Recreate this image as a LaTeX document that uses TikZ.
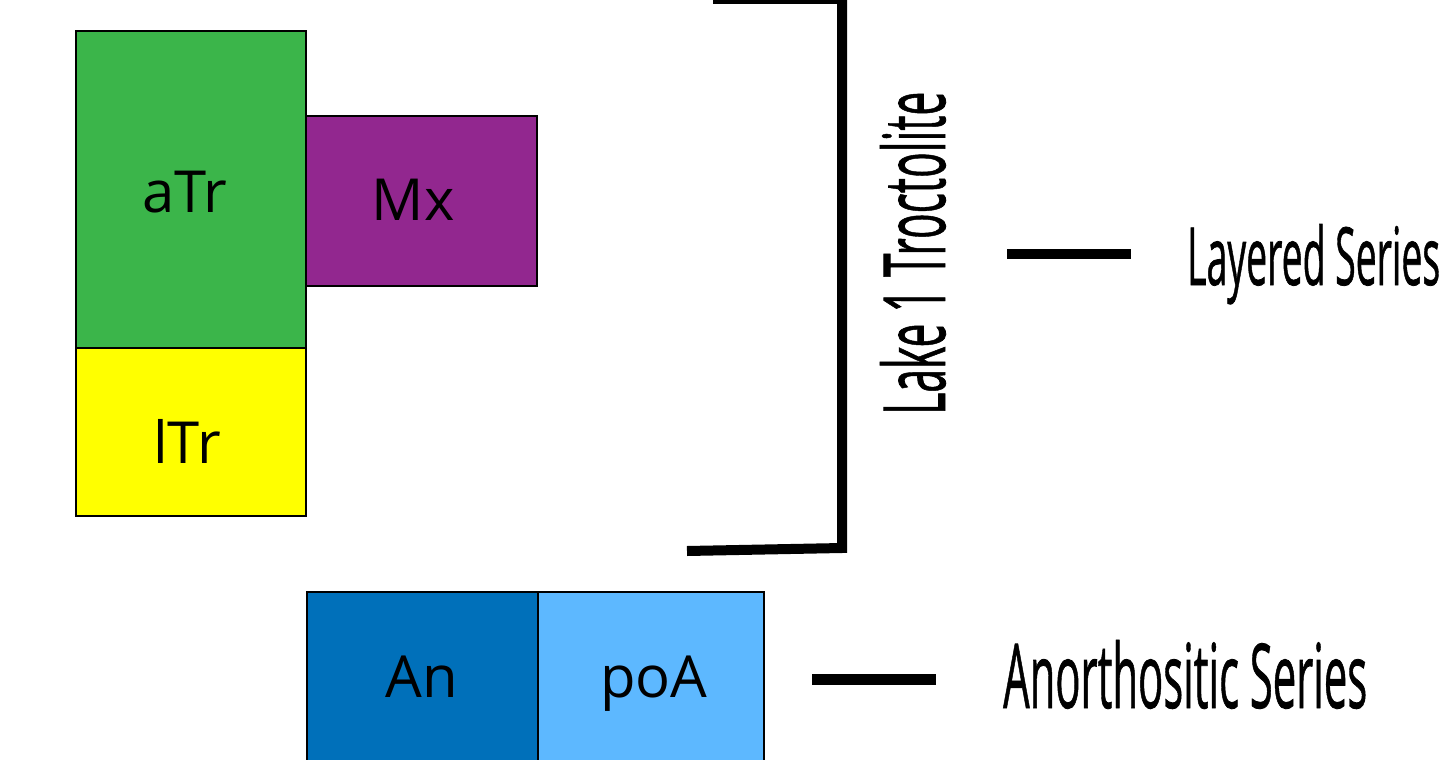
\documentclass[tikz,border=0pt]{standalone}
\usepackage{fontspec}
\setmainfont{Open Sans}
\newfontfamily\condfont[FakeBold=1]{Open Sans}
\usepackage{graphicx}
\definecolor{trgreen}{RGB}{59,181,74}
\definecolor{mxpurple}{RGB}{146,39,143}
\definecolor{ltyellow}{RGB}{255,255,0}
\definecolor{anblue}{RGB}{0,112,186}
\definecolor{poablue}{RGB}{93,184,255}
\tikzset{
  unitbox/.style={draw=black, line width=2.2pt, anchor=north west, inner sep=0pt, outer sep=0pt},
  boxlabel/.style={anchor=base, inner sep=0pt, font=\fontsize{58}{60}\selectfont},
  sidelabel/.style={anchor=base west, inner sep=0pt, font=\condfont},
  heavy/.style={line width=10pt},
}
\begin{document}
\begin{tikzpicture}[x=1pt,y=-1pt]
\useasboundingbox (0,0) rectangle (1443,760);
\begin{scope}
\clip (0,0) rectangle (1443,760);
% boxes
\node[unitbox, fill=trgreen, minimum width=230pt, minimum height=317pt] (atr) at (76,31) {};
\node[unitbox, fill=mxpurple, minimum width=231pt, minimum height=170pt] (mx) at (306,116) {};
\node[unitbox, fill=ltyellow, minimum width=230pt, minimum height=168pt] (ltr) at (76,348) {};
\node[unitbox, fill=anblue, minimum width=231pt, minimum height=190pt] (an) at (307,592) {};
\node[unitbox, fill=poablue, minimum width=226pt, minimum height=190pt] (poa) at (538,592) {};
% labels
\node[boxlabel] (atrl) at (185,212) {aTr};
\node[boxlabel] (mxl) at (413,220) {Mx};
\node[boxlabel] (ltrl) at (187,463) {lTr};
\node[boxlabel] (anl) at (422,697) {An};
\node[boxlabel] (poal) at (654,697) {poA};
% bracket
\coordinate (b1) at (713,-1);
\coordinate (b2) at (842,-1);
\coordinate (b3) at (842,548);
\coordinate (b4) at (687,551);
\draw[heavy, line join=miter] (b1) -- (b2) -- (b3) -- (b4);
% rotated label
\node[sidelabel, rotate=90] (lake) at (945,415) {\resizebox{323pt}{65pt}{Lake 1 Troctolite}};
% dashes
\coordinate (d1a) at (1007,253.5);
\coordinate (d1b) at (1131,253.5);
\draw[heavy] (d1a) -- (d1b);
\coordinate (d2a) at (812,679);
\coordinate (d2b) at (936,679);
\draw[line width=11pt] (d2a) -- (d2b);
% series labels
\node[sidelabel] (layered) at (1187,285) {\resizebox{253pt}{61pt}{Layered Series}};
\node[sidelabel] (anorth) at (1003,708) {\resizebox{364pt}{68pt}{Anorthositic Series}};
\end{scope}
\end{tikzpicture}
\end{document}
